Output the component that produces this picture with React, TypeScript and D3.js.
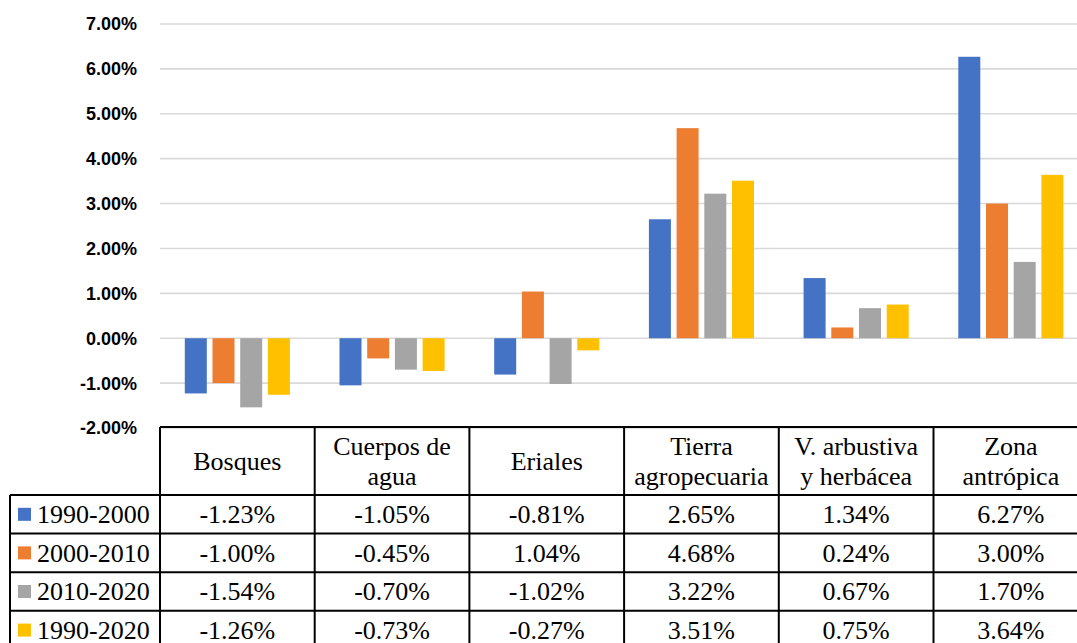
import { useEffect, useRef } from "react";
import * as d3 from "d3";

const categories = [
  ["Bosques"],
  ["Cuerpos de", "agua"],
  ["Eriales"],
  ["Tierra", "agropecuaria"],
  ["V. arbustiva", "y herbácea"],
  ["Zona", "antrópica"],
];
const seriesNames = ["1990-2000", "2000-2010", "2010-2020", "1990-2020"];
const colors = ["#4472C4", "#ED7D31", "#A5A5A5", "#FFC000"];
const s1990_2000 = [-1.23, -1.05, -0.81, 2.65, 1.34, 6.27];
const s2000_2010 = [-1.0, -0.45, 1.04, 4.68, 0.24, 3.0];
const s2010_2020 = [-1.54, -0.7, -1.02, 3.22, 0.67, 1.7];
const s1990_2020 = [-1.26, -0.73, -0.27, 3.51, 0.75, 3.64];
const yTicks = [-2, -1, 0, 1, 2, 3, 4, 5, 6, 7];

const W = 1077;
const H = 643;
const SANS = "'Liberation Sans', Arial, sans-serif";
const SERIF = "'Liberation Serif', 'Times New Roman', serif";

const Chart = () => {
  const svgRef = useRef(null);

  useEffect(() => {
    const svg = d3.select(svgRef.current);
    svg.selectAll("*").remove();

    const values = [s1990_2000, s2000_2010, s2010_2020, s1990_2020];
    const keys = categories.map((c) => c.join(" "));
    const left = 160;
    const colW = 154.7;
    const tableTop = 427;
    const headerH = 68;
    const rowH = 38.6;

    const x0 = d3
      .scaleBand()
      .domain(keys)
      .range([left, left + colW * keys.length])
      .padding(0);
    const x1 = d3
      .scaleBand()
      .domain(seriesNames)
      .range([0, x0.bandwidth()])
      .paddingInner(0.206)
      .paddingOuter(0.895);
    const y = d3.scaleLinear().domain([-2, 7]).range([428, 24]);

    // gridlines
    svg
      .append("g")
      .selectAll("line")
      .data(yTicks)
      .enter()
      .append("line")
      .attr("x1", left)
      .attr("x2", W)
      .attr("y1", (d) => y(d))
      .attr("y2", (d) => y(d))
      .attr("stroke", "#D9D9D9")
      .attr("stroke-width", 1.6);

    // y labels
    svg
      .append("g")
      .selectAll("text")
      .data(yTicks)
      .enter()
      .append("text")
      .attr("x", 137)
      .attr("y", (d) => y(d))
      .attr("dy", "0.36em")
      .attr("text-anchor", "end")
      .style("font-family", SANS)
      .style("font-weight", "bold")
      .style("font-size", "18px")
      .attr("fill", "#000")
      .text((d) => `${d.toFixed(2)}%`);

    // bars
    const bars = [];
    keys.forEach((k, i) => {
      seriesNames.forEach((s, j) => {
        bars.push({ cat: k, series: s, value: values[j][i], color: colors[j] });
      });
    });
    svg
      .append("g")
      .selectAll("rect")
      .data(bars)
      .enter()
      .append("rect")
      .attr("x", (d) => x0(d.cat) + x1(d.series))
      .attr("y", (d) => (d.value >= 0 ? y(d.value) : y(0)))
      .attr("width", x1.bandwidth())
      .attr("height", (d) => Math.abs(y(d.value) - y(0)))
      .attr("fill", (d) => d.color);

    // data table
    const table = svg.append("g");
    const rowY = (r) => tableTop + headerH + r * rowH;
    const lineStyle = (sel) => sel.attr("stroke", "#000").attr("stroke-width", 2);

    table
      .append("line")
      .attr("x1", left)
      .attr("x2", W + 20)
      .attr("y1", tableTop)
      .attr("y2", tableTop)
      .call(lineStyle);
    d3.range(seriesNames.length + 1).forEach((r) => {
      table
        .append("line")
        .attr("x1", 10)
        .attr("x2", W + 20)
        .attr("y1", rowY(r))
        .attr("y2", rowY(r))
        .call(lineStyle);
    });
    table
      .append("line")
      .attr("x1", 10)
      .attr("x2", 10)
      .attr("y1", rowY(0))
      .attr("y2", H + 20)
      .call(lineStyle);
    keys.forEach((k) => {
      table
        .append("line")
        .attr("x1", x0(k))
        .attr("x2", x0(k))
        .attr("y1", tableTop)
        .attr("y2", H + 20)
        .call(lineStyle);
    });

    const txt = (sel) =>
      sel
        .style("font-family", SERIF)
        .style("font-size", "26px")
        .attr("fill", "#000")
        .attr("dy", "0.34em");

    // header
    categories.forEach((lines, i) => {
      const cx = x0(keys[i]) + x0.bandwidth() / 2;
      const cy = tableTop + headerH / 2;
      const lh = 30;
      lines.forEach((ln, li) => {
        table
          .append("text")
          .attr("x", cx)
          .attr("y", cy + (li - (lines.length - 1) / 2) * lh)
          .attr("text-anchor", "middle")
          .call(txt)
          .text(ln);
      });
    });

    // rows
    seriesNames.forEach((s, j) => {
      const cy = rowY(j) + rowH / 2;
      table
        .append("rect")
        .attr("x", 18)
        .attr("y", cy - 6.5)
        .attr("width", 13)
        .attr("height", 13)
        .attr("fill", colors[j]);
      table
        .append("text")
        .attr("x", 37)
        .attr("y", cy)
        .call(txt)
        .text(s);
      values[j].forEach((v, i) => {
        table
          .append("text")
          .attr("x", x0(keys[i]) + x0.bandwidth() / 2)
          .attr("y", cy)
          .attr("text-anchor", "middle")
          .call(txt)
          .text(`${v.toFixed(2)}%`);
      });
    });
  }, []);

  return (
    <svg
      ref={svgRef}
      width={W}
      height={H}
      style={{ position: "absolute", left: 0, top: 0, background: "#fff" }}
    ></svg>
  );
};

export default function App() {
  return <Chart />;
}
